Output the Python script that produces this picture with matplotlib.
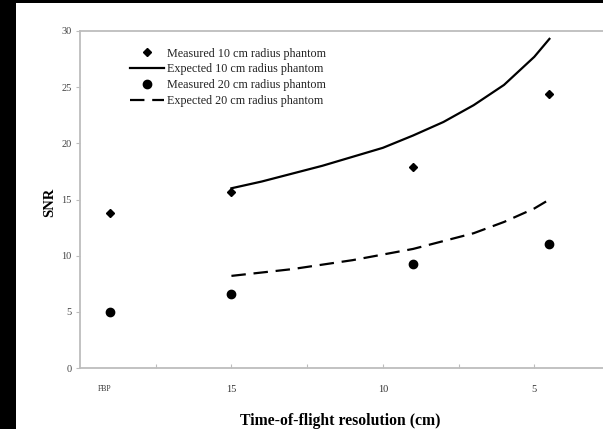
import matplotlib
matplotlib.use("Agg")
import matplotlib.pyplot as plt
from matplotlib.patches import Rectangle

plt.rcParams['font.family'] = ['Liberation Serif', 'DejaVu Serif']

# measured points: FBP is drawn at position 19 on the resolution axis
meas_x = [19, 15, 9, 4.5]
meas10 = [13.8, 15.7, 17.85, 24.4]
meas20 = [5.0, 6.6, 9.3, 11.0]

# expected curves
exp_x = [15, 14, 13, 12, 11, 10, 9, 8, 7, 6, 5, 4.5]
exp10 = [16.0, 16.6, 17.3, 18.0, 18.8, 19.6, 20.7, 21.9, 23.4, 25.2, 27.7, 29.3]
exp20 = [8.2, 8.5, 8.8, 9.2, 9.6, 10.1, 10.6, 11.3, 12.0, 13.0, 14.2, 15.0]

xticks = [17.5, 15, 12.5, 10, 7.5, 5]
xticklabels = ['', '15', '', '10', '', '5']
yticks = [0, 5, 10, 15, 20, 25, 30]

W, H = 603, 429
fig = plt.figure(figsize=(W / 100, H / 100), dpi=100, facecolor='black')
# white page area (black border on the left and top)
fig.patches.append(Rectangle((16 / W, 0), 1, 1 - 3 / H, transform=fig.transFigure,
                             facecolor='white', edgecolor='none', zorder=-5))

ax = fig.add_axes([80 / W, 1 - 368 / H, 530 / W, 337 / H])
ax.set_zorder(2)
ax.set_facecolor('white')

ax.plot(meas_x, meas10, 'D', color='black', markersize=4.5, label='Measured 10 cm radius phantom')
ax.plot(exp_x, exp10, '-', color='black', lw=1.6, label='Expected 10 cm radius phantom')
ax.plot(meas_x, meas20, 'o', color='black', markersize=6, label='Measured 20 cm radius phantom')
ax.plot(exp_x, exp20, '--', color='black', lw=1.6, dashes=(6.5, 3.5),
        label='Expected 20 cm radius phantom')

ax.set_xlim(20, 2.5)
ax.set_ylim(0, 30)
ax.set_xticks(xticks)
ax.set_xticklabels(xticklabels)
ax.set_yticks(yticks)

grey = '#bdbdbd'
for s in ['left', 'bottom', 'top']:
    ax.spines[s].set_color(grey)
    ax.spines[s].set_linewidth(1.3)
ax.spines['right'].set_visible(False)

ax.tick_params(axis='x', direction='in', length=3, color=grey, labelsize=7.5,
               labelcolor='#333333', pad=12)
ax.tick_params(axis='y', direction='out', length=3, color=grey, labelsize=7.5,
               labelcolor='#444444', pad=3)

ax.text(19.2, -1.9, 'FBP', fontsize=5.5, color='#333333', ha='center', va='center')

ax.set_xlabel('Time-of-flight resolution (cm)', fontsize=11.3, fontweight='bold')
ax.xaxis.set_label_coords((340 - 80) / 530, -(421 - 368) / 337)
ax.set_ylabel('SNR', fontsize=10.5, fontweight='bold')
ax.yaxis.set_label_coords(-(80 - 50) / 530, (368 - 202) / 337)
ax.yaxis.label.set_va('center')
ax.xaxis.label.set_va('center')

leg = ax.legend(loc='upper left', bbox_to_anchor=(130 / W, 1 - 47.5 / H),
                bbox_transform=fig.transFigure, frameon=False, fontsize=8.7,
                handlelength=2.8, handletextpad=0.25, labelspacing=0.32,
                borderpad=0, borderaxespad=0, markerfirst=True)
for t in leg.get_texts():
    t.set_color('#222222')

fig.savefig('out.png', dpi=100, facecolor=fig.get_facecolor())
